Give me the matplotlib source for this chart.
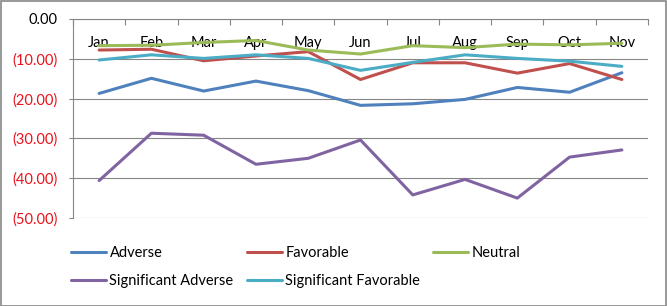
import matplotlib
matplotlib.use("Agg")
import matplotlib.pyplot as plt
from matplotlib.patches import Rectangle

plt.rcParams['font.family'] = ['Lato', 'DejaVu Sans']

months = ['Jan', 'Feb', 'Mar', 'Apr', 'May', 'Jun', 'Jul', 'Aug', 'Sep', 'Oct', 'Nov']

adverse = [-18.7, -14.9, -18.1, -15.6, -18.0, -21.7, -21.3, -20.2, -17.2, -18.4, -13.5]
favorable = [-7.8, -7.6, -10.5, -9.3, -8.2, -15.2, -11.0, -11.0, -13.6, -11.2, -15.2]
neutral = [-6.7, -6.6, -5.9, -5.4, -7.8, -8.8, -6.7, -7.2, -6.3, -6.5, -6.1]
sig_adverse = [-40.6, -28.7, -29.2, -36.5, -35.0, -30.4, -44.2, -40.3, -45.0, -34.7, -32.9]
sig_favorable = [-10.3, -9.0, -9.9, -9.0, -9.9, -12.9, -10.9, -9.0, -9.9, -10.6, -11.9]

y_ticks = [0, -10, -20, -30, -40, -50]

series = [
    ('Adverse', adverse, '#4F81BD'),
    ('Favorable', favorable, '#C0504D'),
    ('Neutral', neutral, '#9BBB59'),
    ('Significant Adverse', sig_adverse, '#8064A2'),
    ('Significant Favorable', sig_favorable, '#4BACC6'),
]

fig = plt.figure(figsize=(6.67, 3.06), dpi=100)
ax = fig.add_axes([73/667, 1-218/306, (648-73)/667, (218-19)/306])

x = list(range(len(months)))
lines = {}
for name, vals, col in series:
    lines[name], = ax.plot(x, vals, color=col, lw=2.2, label=name, solid_capstyle='round')

ax.set_xlim(-0.5, len(months) - 0.5)
ax.set_ylim(-50, 0)

# gridlines
ax.set_yticks(y_ticks)
ax.yaxis.grid(True, color='#868686', lw=0.8)
ax.set_axisbelow(True)

labels = []
for v in y_ticks:
    labels.append('0.00' if v == 0 else '(%.2f)' % (-v))
ax.set_yticklabels(labels, fontsize=10.5)
for t, v in zip(ax.get_yticklabels(), y_ticks):
    t.set_color('black' if v == 0 else '#E8121B')
ax.tick_params(axis='y', length=3, width=0.8, color='#868686', pad=8)

# category axis sits on the zero line at the top
ax.xaxis.set_ticks_position('top')
ax.set_xticks([i - 0.5 for i in range(len(months) + 1)])
ax.set_xticklabels([])
ax.set_xticks(x, minor=True)
ax.set_xticklabels(months, minor=True, fontsize=10.5)
ax.tick_params(axis='x', which='major', direction='in', length=4, width=0.8, color='#868686')
ax.tick_params(axis='x', which='minor', length=0, pad=-22, labeltop=True, labelbottom=False)

for s in ['right', 'bottom']:
    ax.spines[s].set_visible(False)
for s in ['left', 'top']:
    ax.spines[s].set_color('#868686')
    ax.spines[s].set_linewidth(0.8)

# legend fills column-wise, so order to read row-wise like the original
order = ['Adverse', 'Significant Adverse', 'Favorable', 'Significant Favorable', 'Neutral']
fig.legend([lines[n] for n in order], order, loc='upper left',
           bbox_to_anchor=(65/667, 1-240/306), ncol=3,
           frameon=False, fontsize=10.5, handlelength=2.4, handletextpad=0.25,
           columnspacing=0.9, labelspacing=1.0, borderaxespad=0)

fig.patches.append(Rectangle((0.5/667, 0.5/306), 1-1.5/667, 1-1.5/306, transform=fig.transFigure,
                             fill=False, edgecolor='#868686', lw=1.2))

fig.savefig('out.png', dpi=100)
